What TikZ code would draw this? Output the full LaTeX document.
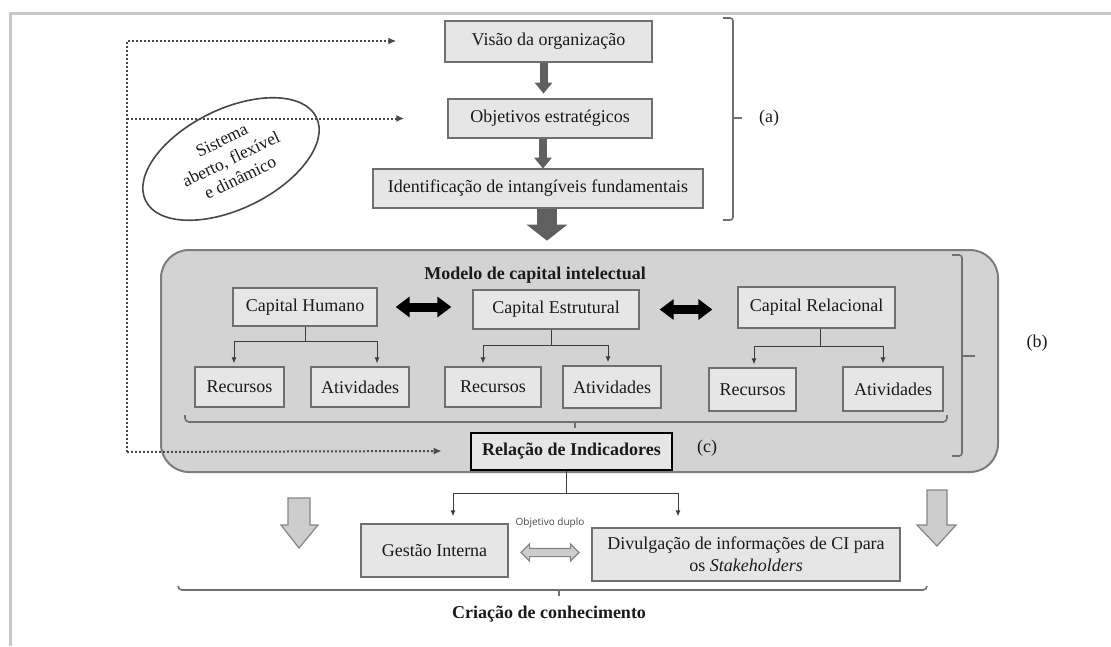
\documentclass[tikz,border=0pt]{standalone}
\usepackage{fontspec}
\setmainfont{Liberation Serif}
\newfontfamily\notesans{Open Sans}
\usetikzlibrary{arrows.meta,shapes.geometric,shapes.arrows,calc}

\definecolor{boxfill}{HTML}{E6E6E6}
\definecolor{boxline}{HTML}{6F6F6F}
\definecolor{panelfill}{HTML}{D3D3D3}
\definecolor{panelline}{HTML}{7D7D7D}
\definecolor{darkarrow}{HTML}{5F5F5F}
\definecolor{inkc}{HTML}{1A1A1A}
\definecolor{framec}{HTML}{C8C8C8}
\definecolor{dotc}{HTML}{4A4A4A}
\definecolor{lightarrow}{HTML}{CDCDCD}
\definecolor{lightarrowline}{HTML}{858585}
\definecolor{bracec}{HTML}{707070}

\begin{document}
\begin{tikzpicture}[x=1pt,y=-1pt,
  every node/.style={font=\fontsize{18}{21}\selectfont, text=inkc},
  box/.style={rectangle, draw=boxline, fill=boxfill, line width=1.3pt,
    inner sep=0pt, minimum height=40pt},
  keybox/.style={rectangle, draw=black, fill=boxfill, line width=2.6pt,
    inner sep=0pt, font=\fontsize{18}{21}\selectfont\bfseries},
  blockdown/.style={draw=darkarrow, fill=darkarrow},
  dotline/.style={draw=dotc, line width=2pt, dash pattern=on 1.8pt off 2.2pt,
    -{Latex[length=8pt,width=7pt]}},
  treeline/.style={draw=inkc!85, line width=1pt},
  twotips/.style={{Latex[length=6pt,width=5pt]}-{Latex[length=6pt,width=5pt]}},
  bracket/.style={draw=bracec, line width=1.6pt, rounded corners=3pt},
  blackdouble/.style={draw=black, line width=9pt,
    {Triangle[width=20pt,length=14pt]}-{Triangle[width=20pt,length=14pt]}},
  hollowarrow/.style={draw=lightarrowline, fill=lightarrow, line width=1.2pt, line join=miter},
]
\useasboundingbox (0,0) rectangle (1111,646);

% outer frame
\draw[framec, line width=3pt] (10,646) -- (10,13) -- (1111,13);

% ---------- strategic level ----------
\node[box, minimum width=207pt, minimum height=41pt] (vis) at (548.5,41.5) {Visão da organização};
\node[box, minimum width=204pt, minimum height=39pt] (obj) at (550,118.5) {Objetivos estratégicos};
\node[box, minimum width=330pt, minimum height=39pt] (ident) at (538,188.5) {Identificação de intangíveis fundamentais};

\draw[blockdown, line width=8pt, -{Triangle[width=17pt,length=11pt]}]
  ([xshift=-5pt]vis.south) -- ++(0,31);
\draw[blockdown, line width=8pt, -{Triangle[width=17pt,length=11pt]}]
  ([xshift=-7pt]obj.south) -- ++(0,30);
\draw[blockdown, line width=20pt, -{Triangle[width=40pt,length=16pt]}]
  ([xshift=9pt]ident.south) -- ++(0,32);

% bracket (a)
\draw[bracket] (723,18) -- (733,18) -- (733,220) -- (723,220);
\draw[bracec, line width=1.6pt] (733,118) -- (742,118);
\node (la) at (769,118) {(a)};

% open system ellipse
\node[ellipse, draw=inkc!80, line width=1.6pt, rotate=26, minimum width=190pt,
  minimum height=100pt, inner sep=0pt, align=center,
  font=\fontsize{17.5}{21}\selectfont] (sys) at (231,159)
  {Sistema\\aberto, flexível\\e dinâmico};

% ---------- intellectual capital model ----------
\node[rectangle, rounded corners=28pt, draw=panelline, fill=panelfill, line width=2pt,
  minimum width=837pt, minimum height=222pt, inner sep=0pt] (panel) at (579.5,361) {};

\node[font=\fontsize{18}{21}\selectfont\bfseries] (mtitle) at (535,275) {Modelo de capital intelectual};

\node[box, minimum width=144pt, minimum height=38pt] (hum) at (305,307) {Capital Humano};
\node[box, minimum width=166pt, minimum height=39pt] (est) at (556,309.5) {Capital Estrutural};
\node[box, minimum width=157pt, minimum height=41pt] (rel) at (816.5,307.5) {Capital Relacional};

\node[box, minimum width=89pt] (rh) at (239.5,387) {Recursos};
\node[box, minimum width=98pt] (ah) at (360,387) {Atividades};
\node[box, minimum width=96pt] (re) at (493,387) {Recursos};
\node[box, minimum width=98pt, minimum height=42pt] (ae) at (612,387) {Atividades};
\node[box, minimum width=87pt, minimum height=43pt] (rr) at (752.5,389.5) {Recursos};
\node[box, minimum width=100pt, minimum height=44pt] (ar) at (893,389) {Atividades};

% links between the three capitals
\draw[blackdouble, shorten <=18pt, shorten >=21pt] (hum.east) -- (est.west |- hum.east);
\draw[blackdouble, shorten <=20pt, shorten >=25pt] (est.east) -- (rel.west |- est.east);

% trees: capital -> resources / activities
\draw[treeline] (hum.south) -- ++(0,15) coordinate (hj);
\draw[treeline, twotips] ([xshift=-5.5pt,yshift=3pt]rh.north) |- (hj) -| ([xshift=17pt,yshift=3pt]ah.north);
\draw[treeline] ([xshift=-5pt]est.south) -- ++(0,16) coordinate (ej);
\draw[treeline, twotips] ([xshift=-10pt,yshift=3pt]re.north) |- (ej) -| ([xshift=-4pt,yshift=3pt]ae.north);
\draw[treeline] ([xshift=3.5pt]rel.south) -- ++(0,18) coordinate (rj);
\draw[treeline, twotips] ([xshift=1.5pt,yshift=3pt]rr.north) |- (rj) -| ([xshift=-10pt,yshift=3pt]ar.north);

% grouping line under the six boxes
\node[keybox, minimum width=201pt, minimum height=37pt] (relind) at (571.5,451.5) {Relação de Indicadores};
\draw[bracket, rounded corners=4pt] (185,415) -- (185,422) -- (947,422) -- (947,415);
\draw[bracec, line width=1.6pt] (575,422) -- (575,428);
\node (lc) at (707,448) {(c)};

% bracket (b)
\draw[bracket] (952,255) -- (962,255) -- (962,456) -- (952,456);
\draw[bracec, line width=1.6pt] (962,356) -- (975,356);
\node (lb) at (1037,343) {(b)};

% feedback loop of the open system
\coordinate (fb) at (127,452);
\draw[dotline] (fb) |- ([xshift=-48pt,yshift=0.5pt]vis.west);
\draw[dotline] (fb |- obj.west) -- ([xshift=-43pt]obj.west);
\draw[dotline] (fb) -- ([xshift=-28pt,yshift=0.5pt]relind.west);

% ---------- dual objective ----------
\node[box, minimum width=147pt, minimum height=53pt] (gest) at (434.5,550.5) {Gestão Interna};
\node[box, minimum width=308pt, minimum height=53pt, align=center,
  font=\fontsize{18}{22}\selectfont] (div) at (746,554.5)
  {Divulgação de informações de CI para\\os \textit{Stakeholders}};

\draw[treeline] ([xshift=-5pt]relind.south) -- ++(0,22) coordinate (dj);
\draw[treeline, twotips] ([xshift=18.5pt,yshift=7pt]gest.north) |- (dj) -| ([xshift=-68pt,yshift=11pt]div.north);
\node[font=\notesans\fontsize{10}{12}\selectfont, text=inkc!80] (dual) at (550,523) {Objetivo duplo};

\node[double arrow, draw=lightarrowline, fill=lightarrow, line width=1.1pt,
  minimum height=58pt, inner sep=3.5pt, double arrow head extend=4.5pt]
  (gd) at ($(gest.east)!0.5!(div.west)$) {};

% hollow arrows towards knowledge creation
\draw[hollowarrow] (288,498) -- (310,498) -- (310,525) -- (318,525) -- (299,548)
  -- (281,525) -- (288,525) -- cycle;
\draw[hollowarrow] (927,490) -- (947,490) -- (947,525) -- (956,525) -- (937,546)
  -- (917,525) -- (927,525) -- cycle;

% knowledge creation
\draw[bracket, rounded corners=4pt] (178,586) -- (178,590) -- (927,590) -- (927,586);
\draw[bracec, line width=1.6pt] (559,590) -- (559,596);
\node[font=\fontsize{18}{21}\selectfont\bfseries] (kc) at (549,614) {Criação de conhecimento};

\end{tikzpicture}
\end{document}
